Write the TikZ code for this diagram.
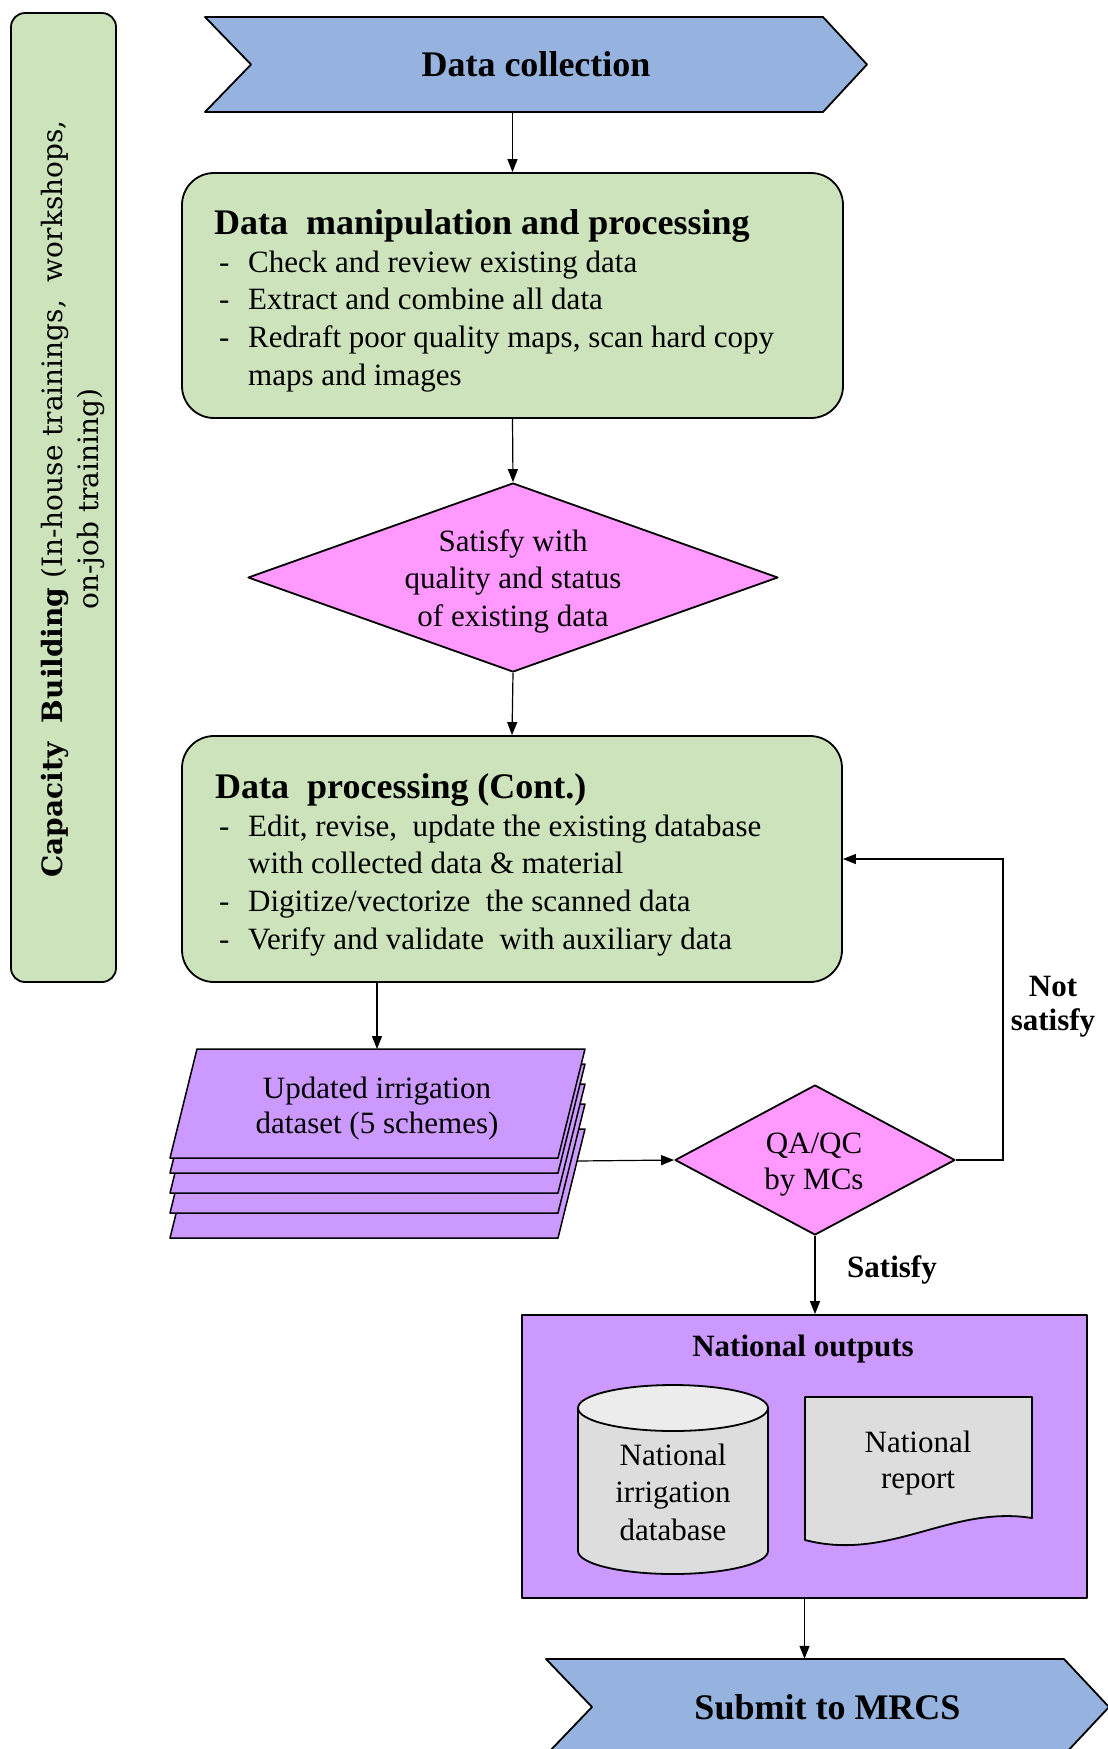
\documentclass[tikz,border=0pt]{standalone}
\usepackage{fontspec}
\setmainfont{Liberation Serif}
\newfontfamily\capfont{DejaVu Serif}
\usetikzlibrary{arrows.meta,shapes.geometric}

\definecolor{chevblue}{RGB}{149,179,222}
\definecolor{boxgreen}{RGB}{205,227,188}
\definecolor{dpink}{RGB}{255,153,255}
\definecolor{dpurple}{RGB}{204,153,255}
\definecolor{lgray}{RGB}{221,221,221}
\definecolor{lgraytop}{RGB}{236,236,236}

\newcommand{\myfs}[2]{\fontsize{#1}{#2}\selectfont}
\newcommand{\ctrlines}[1]{\begin{tabular}[t]{@{}c@{}}#1\end{tabular}}
\newcommand{\leftlines}[1]{\begin{tabular}[t]{@{}l@{}}#1\end{tabular}}
\newcommand{\dsh}{\makebox[29pt][l]{-}}

\begin{document}
\begin{tikzpicture}[x=1pt,y=-1pt,
  outl/.style={draw=black, line width=1.8pt, line join=round},
  conn/.style={draw=black, line width=1.2pt, -{Triangle[length=13pt,width=10pt]}},
  txt/.style={inner sep=0pt, font=\myfs{31}{37.7}},
  ttl/.style={inner sep=0pt, font=\bfseries\myfs{36}{40}},
  lbl/.style={inner sep=0pt, font=\bfseries\myfs{31}{34}},
  holder/.style={inner sep=0pt, draw=none, fill=none}
]
\path[use as bounding box] (0,0) rectangle (1108,1749);
\clip (0,0) rectangle (1108,1749);

% Capacity building side bar
\node[outl, fill=boxgreen, rounded corners=14pt, minimum width=105pt, minimum height=969pt, inner sep=0pt] (cap) at (63.5,497.5) {};
\node[inner sep=0pt, rotate=90, anchor=base, font=\capfont\myfs{28}{36}] (captxt) at (62,499)
  {\ctrlines{\textbf{Capacity\ \ Building} (In-house trainings,\ \ workshops,\\on-job training)}};

% Data collection chevron
\path[outl, fill=chevblue] (205,17) -- (823,17) -- (867,64.5) -- (823,112) -- (205,112) -- (251,64.5) -- cycle;
\node[holder, minimum width=662pt, minimum height=95pt, font=\bfseries\myfs{36}{40}] (dc) at (536,64.5) {Data collection};

% Box 1
\node[outl, fill=boxgreen, rounded corners=32pt, minimum width=661pt, minimum height=245pt, inner sep=0pt] (b1) at (512.5,295.5) {};
\node[ttl, anchor=base west] (b1t) at (214,234) {Data\ \ manipulation and processing};
\node[txt, anchor=base west] (b1l) at (219,272) {\leftlines{\dsh Check and review existing data\\
  \dsh Extract and combine all data\\
  \dsh Redraft poor quality maps, scan hard copy\\
  \hspace*{29pt}maps and images}};

% Diamond 1
\node[outl, fill=dpink, diamond, aspect=2.8, minimum width=530pt, minimum height=189pt, inner sep=0pt] (d1) at (513,577.5) {};
\node[txt, anchor=base, font=\myfs{31}{37.5}] (d1t) at (513,551) {\ctrlines{Satisfy with\\quality and status\\of existing data}};

% Box 2
\node[outl, fill=boxgreen, rounded corners=32pt, minimum width=660pt, minimum height=246pt, inner sep=0pt] (b2) at (512,859) {};
\node[ttl, anchor=base west] (b2t) at (215,798) {Data\ \ processing (Cont.)};
\node[txt, anchor=base west] (b2l) at (219,836) {\leftlines{\dsh Edit, revise,\ \ update the existing database\\
  \hspace*{29pt}with collected data \& material\\
  \dsh Digitize/vectorize\ \ the scanned data\\
  \dsh Verify and validate\ \ with auxiliary data}};

% Stack of sheets
\foreach \d in {80,55,35,15}{
  \path[outl, line width=1.5pt, fill=dpurple] (197,1049+\d) -- (585,1049+\d) -- (558,1158+\d) -- (170,1158+\d) -- cycle;
}
\path[outl, line width=1.5pt, fill=dpurple] (197,1049) -- (585,1049) -- (558,1158) -- (170,1158) -- cycle;
\coordinate (stk) at (377,1049);
\coordinate (stkr) at (577,1161);
\node[txt, anchor=base, font=\myfs{31}{35}] (stkt) at (377,1098) {\ctrlines{Updated irrigation\\dataset (5 schemes)}};

% QA/QC diamond
\node[outl, fill=dpink, diamond, aspect=1.867, minimum width=280pt, minimum height=150pt, inner sep=0pt] (qa) at (815,1160) {};
\node[txt, anchor=base, font=\myfs{31}{36}] (qat) at (814,1153) {\ctrlines{QA/QC\\by MCs}};
\coordinate (fbk) at (1003,1160);

% labels
\node[lbl, anchor=base] (ns) at (1053,996) {\ctrlines{Not\\satisfy}};
\node[lbl, anchor=base west] (sat) at (847,1277) {Satisfy};

% National outputs
\node[outl, fill=dpurple, minimum width=565pt, minimum height=283pt, inner sep=0pt] (no) at (804.5,1456.5) {};
\node[lbl, anchor=base] (not) at (803,1356) {National outputs};

% Cylinder
\path[outl, fill=lgray] (578,1408) -- (578,1551)
  .. controls (578,1563.7) and (620.5,1574) .. (673,1574)
  .. controls (725.5,1574) and (768,1563.7) .. (768,1551) -- (768,1408) -- cycle;
\path[outl, fill=lgraytop] (673,1408) ellipse [x radius=95, y radius=23];
\node[txt, anchor=base, font=\myfs{31}{37.5}] (cyl) at (673,1465) {\ctrlines{National\\irrigation\\database}};

% Document
\path[outl, fill=lgray] (805,1397) -- (1032,1397) -- (1032,1518)
  .. controls (950,1505) and (890,1562) .. (805,1540) -- cycle;
\node[txt, anchor=base, font=\myfs{31}{36}] (doc) at (918,1452) {\ctrlines{National\\report}};

% Submit chevron
\path[outl, fill=chevblue] (546,1659) -- (1064,1659) -- (1109,1707) -- (1064,1755) -- (546,1755) -- (592,1707) -- cycle;
\node[holder, minimum width=563pt, minimum height=96pt, font=\bfseries\myfs{36}{40}] (sub) at (827.5,1707) {Submit to MRCS};

% connectors
\draw[conn] (dc.south -| b1.north) -- (b1.north);
\draw[conn] (b1.south) -- (d1.north);
\draw[conn] (d1.south) -- (b2.north);
\draw[conn] (b2.south -| stk) -- (stk);
\draw[conn] (stkr) -- (qa.west);
\draw[conn] (qa.east) -- (fbk) |- (b2.east);
\draw[conn] (qa.south) -- (qa.south |- no.north);
\draw[conn] (no.south) -- (no.south |- sub.north);
\end{tikzpicture}
\end{document}
